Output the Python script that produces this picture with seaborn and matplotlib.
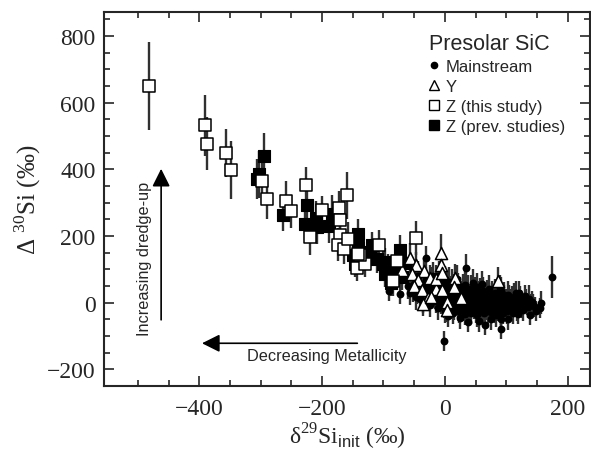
import numpy as np
import pandas as pd
import matplotlib
matplotlib.use("Agg")
import matplotlib.pyplot as plt
from matplotlib.lines import Line2D
import seaborn as sns

# --- data (delta29Si_init, Delta30Si, 1-sigma) ---
# mainstream grains: dense cloud + outliers
ms_x = [-52, -47, -42, -38, -36, -31, -28, -26, -24, -19, -17, -14, -12, -9, -7, -4, -2, 1,
        3, 6, 8, 11, 13, 12, 16, 18, 21, 23, 22, 26, 28, 31, 33, 32, 36, 38, 41, 43,
        42, 46, 48, 51, 53, 52, 56, 58, 61, 63, 62, 66, 68, 71, 72, 76, 78, 81, 83,
        82, 86, 88, 91, 92, 96, 98, 101, 102, 106, 108, 111, 112, 116, 118, 122, 126,
        128, 132, 136, 142, 146, -60, -20, 0, 45, 75, 55, 25, 5, 115, 130,
        -50, -45, -40, -33, -29, -22, -21, -16, -11, -8, -6, -1, 0, 2, 4, 7, 9, 10,
        14, 15, 17, 19, 24, 25, 27, 29, 30, 34, 35, 37, 39, 44, 45, 47, 49, 50, 54,
        55, 57, 59, 64, 65, 67, 69, 70, 74, 75, 77, 79, 84, 85, 87, 89, 90, 94, 95,
        97, 99, 104, 105, 107, 109, 110, 114, 117, 120, 124, 125, 134, 138, 144,
        -56, -44, -10, 20, 60, 90, 120,
        174, -2, -91, -73, -30, 34, 38, 65, 92, 92, 103, 119, 137, 138, 148, 155, 157]
ms_y = [38, 18, 58, 28, 4, 68, 42, 14, -8, 52, 30, 6, -16, 64, 42, 20, -4, -26,
        50, 30, 10, -10, -30, 58, 36, 16, -4, -24, 46, 26, 6, -14, -34, 54, 30, 10, -10, -30,
        40, 20, 0, -20, -38, 46, 26, 6, -14, -32, 34, 14, -6, -24, 40, 20, 0, -20, -38,
        30, 10, -10, -28, 34, 14, -6, -24, 24, 4, -14, -30, 18, -2, -20, 12, -8,
        -22, 6, -12, 2, -14, 50, 80, 70, 60, -50, -55, -45, -40, 30, 20,
        55, 35, 10, 50, 25, 62, 40, 18, 48, 28, 2, 58, 38, 14, -14, 62, 40, 20,
        -2, -18, 48, 26, 36, 14, -8, 44, 22, -2, -22, 40, 18, 28, 8, -12, 34, 14, -6,
        -26, 32, 16, 22, 0, -18, 28, 8, -12, -28, 26, 6, 20, -2, -20, 22, 2, -16, -32,
        22, 4, 14, -6, -22, 12, -10, 8, -12, 2, 4, -14, -4, -6, -6,
        30, 80, 80, 70, 55, 45, 30,
        77, -114, 36, 26, 134, 105, -58, -68, -50, -78, -48, -34, 12, -38, -26, -16, 0]
ms_err = [35, 40, 38, 42, 36, 40, 44, 38, 35, 42, 40, 37, 36, 44, 40, 38, 41, 36,
          42, 39, 37, 40, 35, 44, 40, 38, 42, 36, 43, 39, 37, 40, 34, 45, 41, 38, 40, 35,
          42, 39, 37, 41, 34, 44, 40, 38, 41, 35, 42, 39, 37, 40, 43, 40, 38, 41, 34,
          42, 39, 37, 40, 43, 39, 37, 40, 41, 38, 36, 33, 40, 37, 34, 38, 35,
          32, 36, 33, 34, 30, 38, 42, 40, 40, 32, 32, 34, 34, 36, 34,
          40, 38, 36, 42, 39, 44, 40, 37, 43, 39, 36, 44, 41, 38, 36, 45, 41, 39,
          37, 35, 43, 40, 42, 38, 36, 43, 40, 37, 35, 42, 39, 41, 38, 36, 42, 39, 37,
          35, 41, 38, 40, 37, 35, 41, 38, 36, 34, 40, 37, 39, 36, 34, 40, 37, 35, 33,
          39, 36, 38, 35, 33, 37, 34, 36, 33, 35, 34, 32, 33, 32, 31,
          36, 44, 44, 42, 40, 38, 36,
          63, 30, 30, 30, 35, 40, 30, 30, 35, 30, 35, 30, 40, 30, 30, 30, 35]

# Y grains
y_x = [-57, -47, -69, -54, -34, -7, -6, -25, -44, -51, -38, -27, -36, -15, -5, -15,
       -4, 4, 16, 15, 26, 4, -22, 87]
y_y = [134, 112, 99, 85, 94, 150, 112, 74, 67, 50, 37, 14, -5, 40, 37, 72,
       90, 2, 75, 47, 14, -23, 17, 66]
y_err = [45, 40, 40, 38, 40, 55, 45, 40, 38, 36, 36, 35, 34, 36, 38, 40,
         44, 36, 40, 38, 36, 34, 36, 40]

# Z grains, this study
zn_x = [-482, -391, -388, -356, -349, -297, -290, -258, -251, -226, -220, -200, -172,
        -160, -170, -171, -174, -165, -157, -143, -130, -138, -107, -78, -84, -47, -141]
zn_y = [650, 532, 477, 449, 399, 364, 312, 305, 274, 352, 197, 279, 284,
        322, 249, 204, 174, 162, 192, 104, 117, 144, 174, 125, 65, 194, 147]
zn_err = [133, 92, 80, 73, 87, 65, 62, 60, 50, 56, 55, 40, 50,
          70, 50, 45, 50, 45, 50, 40, 40, 45, 45, 40, 45, 50, 40]

# Z grains, previous studies
zp_x = [-295, -302, -306, -264, -225, -228, -210, -208, -184, -188, -141, -141, -146,
        -149, -125, -119, -122, -100, -92, -73, -81, -70, -98, -97, -88, -65, -110]
zp_y = [440, 385, 372, 264, 292, 237, 254, 226, 267, 229, 207, 167, 117,
        142, 152, 172, 147, 117, 107, 157, 102, 77, 87, 123, 60, 120, 130]
zp_err = [70, 70, 60, 50, 50, 50, 50, 50, 55, 50, 45, 45, 40,
          40, 40, 40, 40, 40, 40, 45, 40, 40, 40, 40, 40, 40, 40]

groups = ["Mainstream", "Y", "Z (this study)", "Z (prev. studies)"]

df = pd.concat([
    pd.DataFrame({"d29": ms_x, "D30": ms_y, "err": ms_err, "type": "Mainstream"}),
    pd.DataFrame({"d29": zp_x, "D30": zp_y, "err": zp_err, "type": "Z (prev. studies)"}),
    pd.DataFrame({"d29": y_x, "D30": y_y, "err": y_err, "type": "Y"}),
    pd.DataFrame({"d29": zn_x, "D30": zn_y, "err": zn_err, "type": "Z (this study)"}),
], ignore_index=True)

sns.set_theme(style="ticks")
plt.rcParams["font.family"] = ["Liberation Serif", "DejaVu Serif"]
plt.rcParams["mathtext.fontset"] = "custom"
plt.rcParams["mathtext.rm"] = "Liberation Serif"
plt.rcParams["mathtext.sf"] = "Liberation Sans"

fig = plt.figure(figsize=(5.91, 4.52), dpi=100)
ax = fig.add_axes([0.176, 0.144, 0.822, 0.827])

styles = {
    "Mainstream": dict(marker="o", s=32, color="black", edgecolor="black", linewidth=0),
    "Z (prev. studies)": dict(marker="s", s=70, color="black", edgecolor="black", linewidth=0.8),
    "Y": dict(marker="^", s=76, color="white", edgecolor="black", linewidth=1.1),
    "Z (this study)": dict(marker="s", s=70, color="white", edgecolor="black", linewidth=1.1),
}

for name in ["Mainstream", "Z (prev. studies)", "Y", "Z (this study)"]:
    sub = df[df["type"] == name]
    ax.errorbar(sub["d29"], sub["D30"], yerr=sub["err"], fmt="none",
                ecolor="#303030", elinewidth=1.7, capsize=0, zorder=2)
    sns.scatterplot(data=sub, x="d29", y="D30", ax=ax, zorder=3, legend=False,
                    **styles[name])

ax.set_xlim(-555, 236)
ax.set_ylim(-250, 872)
ax.set_xticks([-400, -200, 0, 200])
ax.set_yticks([-200, 0, 200, 400, 600, 800])
ax.set_xticks(np.arange(-500, 236, 50), minor=True)
ax.set_yticks(np.arange(-250, 872, 50), minor=True)
ax.tick_params(which="both", direction="in", top=True, right=True, width=1.2,
               labelsize=17, pad=6)
ax.tick_params(which="major", length=7)
ax.tick_params(which="minor", length=4)
ax.tick_params(axis="x", pad=9)
for sp in ax.spines.values():
    sp.set_linewidth(1.5)

ax.set_xlabel(r"δ$^{29}$Si$_{\mathsf{init}}$ (‰)", fontsize=17, labelpad=1)
ax.set_ylabel(r"Δ $^{30}$Si (‰)", fontsize=18, labelpad=3)

# annotations
sans = ["Liberation Sans", "DejaVu Sans"]
ax.annotate("", xy=(-462, 410), xytext=(-462, -60),
            arrowprops=dict(arrowstyle="-|>,head_length=0.9,head_width=0.45",
                            color="black", lw=1.2))
ax.text(-489, 135, "Increasing dredge-up", rotation=90, ha="center", va="center",
        fontsize=11.7, family=sans)
ax.annotate("", xy=(-400, -122), xytext=(-138, -122),
            arrowprops=dict(arrowstyle="-|>,head_length=0.9,head_width=0.45",
                            color="black", lw=1.2))
ax.text(-192, -158, "Decreasing Metallicity", ha="center", va="center",
        fontsize=11.7, family=sans)

handles = [
    Line2D([], [], ls="none", marker="o", ms=4.5, mfc="black", mec="black"),
    Line2D([], [], ls="none", marker="^", ms=6.5, mfc="white", mec="black", mew=1),
    Line2D([], [], ls="none", marker="s", ms=6.5, mfc="white", mec="black", mew=1),
    Line2D([], [], ls="none", marker="s", ms=6.5, mfc="black", mec="black", mew=1),
]
leg = ax.legend(handles, groups, title="Presolar SiC", loc="upper right",
                bbox_to_anchor=(0.97, 0.972), frameon=False, handlelength=0.6,
                handletextpad=0.4, labelspacing=0.3, borderaxespad=0.2,
                prop=dict(family=sans, size=12))
leg.get_title().set_fontsize(15.5)
leg.get_title().set_family(sans)
leg._legend_box.align = "left"

fig.savefig("out.png", dpi=100)
